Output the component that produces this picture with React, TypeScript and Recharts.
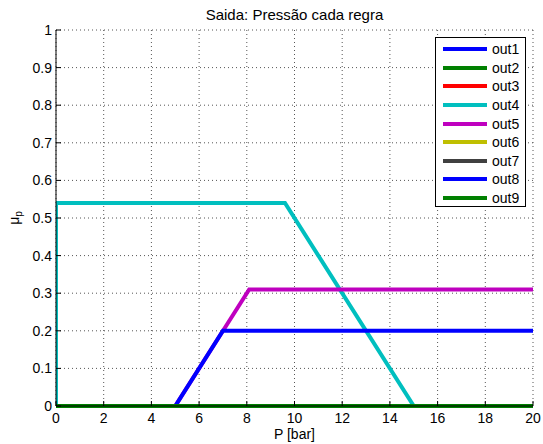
import { LineChart, Line, XAxis, YAxis, CartesianGrid, Legend } from 'recharts';

// eixo x (pressão em bar) e ticks
const xTicks = [0, 2, 4, 6, 8, 10, 12, 14, 16, 18, 20];
const yTicks = [0, 0.1, 0.2, 0.3, 0.4, 0.5, 0.6, 0.7, 0.8, 0.9, 1];

// saídas de cada regra (pontos x / mu)
const out1X = [0, 20];
const out1Y = [0, 0];
const out2X = [0, 20];
const out2Y = [0, 0];
const out3X = [0, 20];
const out3Y = [0, 0];
const out4X = [0, 0, 9.6, 15, 20];
const out4Y = [0, 0.54, 0.54, 0, 0];
const out5X = [0, 5, 8.1, 20];
const out5Y = [0, 0, 0.31, 0.31];
const out6X = [0, 20];
const out6Y = [0, 0];
const out7X = [0, 20];
const out7Y = [0, 0];
const out8X = [0, 5, 7, 20];
const out8Y = [0, 0, 0.2, 0.2];
const out9X = [0, 20];
const out9Y = [0, 0];

const names = ['out1', 'out2', 'out3', 'out4', 'out5', 'out6', 'out7', 'out8', 'out9'];
const colors = ['#0000ff', '#008000', '#ff0000', '#00bfbf', '#bf00bf', '#bfbf00', '#404040', '#0000ff', '#008000'];

const toPoints = (xs: number[], ys: number[]) => xs.map((x, i) => ({ x, y: ys[i] }));

const series = [
  toPoints(out1X, out1Y),
  toPoints(out2X, out2Y),
  toPoints(out3X, out3Y),
  toPoints(out4X, out4Y),
  toPoints(out5X, out5Y),
  toPoints(out6X, out6Y),
  toPoints(out7X, out7Y),
  toPoints(out8X, out8Y),
  toPoints(out9X, out9Y),
];

const FONT = '"Liberation Sans", Arial, sans-serif';
const FS = 14;
const TICK = 5;

const BottomTick = ({ x, y, payload }: any) => (
  <g>
    <line x1={x} x2={x} y1={y - 7} y2={y - 7 - TICK} stroke="#000" />
    <text x={x} y={y} dy="0.71em" textAnchor="middle" fontSize={FS} fontFamily={FONT} fill="#000">
      {payload.value}
    </text>
  </g>
);

const LeftTick = ({ x, y, payload }: any) => (
  <g>
    <line x1={x + 4} x2={x + 4 + TICK} y1={y} y2={y} stroke="#000" />
    <text x={x} y={y} dy="0.35em" textAnchor="end" fontSize={FS} fontFamily={FONT} fill="#000">
      {payload.value}
    </text>
  </g>
);

const TopTick = ({ x, y }: any) => (
  <line x1={x} x2={x} y1={y} y2={y + TICK} stroke="#000" />
);

const RightTick = ({ x, y }: any) => (
  <line x1={x} x2={x - TICK} y1={y} y2={y} stroke="#000" />
);

const LegendBox = () => (
  <div
    style={{
      width: 91,
      height: 170,
      border: '1px solid #000',
      background: '#fff',
      fontFamily: FONT,
      fontSize: FS,
      paddingTop: 2,
      boxSizing: 'border-box',
    }}
  >
    {names.map((n, i) => (
      <div key={n} style={{ display: 'flex', alignItems: 'center', height: 18.6 }}>
        <div style={{ width: 44, height: 4, background: colors[i], marginLeft: 7, marginRight: 5 }} />
        <span>{n}</span>
      </div>
    ))}
  </div>
);

export default function App() {
  return (
    <div style={{ position: 'absolute', left: 0, top: 0, width: 543, height: 444, background: '#fff' }}>
      <div
        style={{
          position: 'absolute',
          left: 56,
          width: 477,
          top: 7,
          lineHeight: '15px',
          textAlign: 'center',
          fontFamily: FONT,
          fontSize: 15,
        }}
      >
        Saida: Pressão cada regra
      </div>
      <LineChart width={543} height={444} margin={{ top: 30, right: 10, bottom: 0, left: 0 }}>
        <CartesianGrid stroke="#555" strokeDasharray="1 3" />
        <XAxis
          dataKey="x"
          type="number"
          domain={[0, 20]}
          ticks={xTicks}
          allowDataOverflow
          height={38}
          tickSize={0}
          tickMargin={7}
          tick={<BottomTick />}
          axisLine={{ stroke: '#000' }}
          label={{ value: 'P [bar]', position: 'insideBottom', offset: 5, fontSize: FS, fontFamily: FONT, fill: '#000' }}
        />
        <XAxis
          xAxisId="top"
          orientation="top"
          dataKey="x"
          type="number"
          domain={[0, 20]}
          ticks={xTicks}
          height={0}
          tickSize={0}
          tickMargin={0}
          tick={<TopTick />}
          axisLine={{ stroke: '#000' }}
        />
        <YAxis
          type="number"
          domain={[0, 1]}
          ticks={yTicks}
          width={56}
          tickSize={0}
          tickMargin={4}
          tick={<LeftTick />}
          axisLine={{ stroke: '#000' }}
          label={{
            content: () => (
              <text transform="translate(19,218) rotate(-90)" textAnchor="middle" fontSize={FS} fontFamily={FONT} fill="#000">
                μ<tspan fontSize={10} dy={3}>p</tspan>
              </text>
            ),
          }}
        />
        <YAxis
          yAxisId="right"
          orientation="right"
          type="number"
          domain={[0, 1]}
          ticks={yTicks}
          width={0}
          tickSize={0}
          tickMargin={0}
          tick={<RightTick />}
          axisLine={{ stroke: '#000' }}
        />
        <Legend
          layout="vertical"
          align="center"
          verticalAlign="middle"
          wrapperStyle={{ position: 'absolute', left: 435, top: 37, width: 91 }}
          content={<LegendBox />}
        />
        {series.map((d, i) => (
          <Line
            key={names[i]}
            data={d}
            dataKey="y"
            name={names[i]}
            stroke={colors[i]}
            strokeWidth={4}
            dot={false}
            type="linear"
            isAnimationActive={false}
          />
        ))}
      </LineChart>
    </div>
  );
}
